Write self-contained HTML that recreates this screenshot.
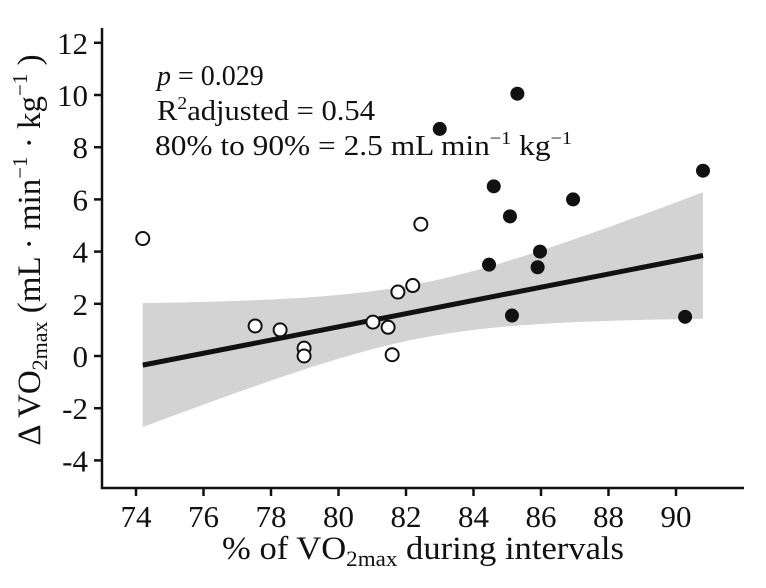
<!DOCTYPE html>
<html><head><meta charset="utf-8"><style>
body{margin:0;background:#fff}
text{font-family:"Liberation Serif",serif;fill:#111}
</style></head><body>
<svg id="chart" width="766" height="588" style="position:absolute;left:0;top:0"></svg>
<script>
const openX=[74.2,77.53,78.27,78.98,78.98,81.02,81.47,81.59,81.76,82.2,82.44];
const openY=[4.5,1.15,1.0,0.3,0.0,1.3,1.1,0.05,2.45,2.7,5.05];
const filledX=[83.0,84.46,84.6,85.08,85.14,85.3,85.9,85.97,86.95,90.27,90.8];
const filledY=[8.7,3.5,6.5,5.35,1.55,10.05,3.4,4.0,6.0,1.5,7.1];
const xTicks=[74,76,78,80,82,84,86,88,90];
const yTicks=[-4,-2,0,2,4,6,8,10,12];
const fitStart=[74.2,-0.35], fitEnd=[90.8,3.85];
const bandCenter=82.4, bandMin=1.05, bandSlope=0.26;
const NS="http://www.w3.org/2000/svg";
const svg=document.getElementById('chart');
const sx=v=>136+(v-74)*33.75;
const sy=v=>356-v*26.1;
function el(t,a,p){const e=document.createElementNS(NS,t);for(const k in a)e.setAttribute(k,a[k]);(p||svg).appendChild(e);return e;}
const fy=x=>fitStart[1]+(fitEnd[1]-fitStart[1])*(x-fitStart[0])/(fitEnd[0]-fitStart[0]);
const hw=x=>Math.sqrt(bandMin*bandMin+Math.pow(bandSlope*(x-bandCenter),2));
let up=[],lo=[];
for(let i=0;i<=40;i++){const x=fitStart[0]+(fitEnd[0]-fitStart[0])*i/40;up.push(sx(x)+','+sy(fy(x)+hw(x)));lo.unshift(sx(x)+','+sy(fy(x)-hw(x)));}
const band=el('polygon',{points:up.concat(lo).join(' '),fill:'#d3d3d3'});


const fit=el('line',{x1:sx(fitStart[0]),y1:sy(fitStart[1]),x2:sx(fitEnd[0]),y2:sy(fitEnd[1]),stroke:'#111','stroke-width':5});


const ax=el('path',{d:'M102,28 V488 H744',fill:'none',stroke:'#111','stroke-width':2.5});


yTicks.forEach(v=>{
 const t=el('line',{x1:94,x2:102,y1:sy(v),y2:sy(v),stroke:'#111','stroke-width':2.5});
 
 
 const l=el('text',{x:88,y:sy(v)+11,'text-anchor':'end','font-size':31,style:'font-family:"Liberation Serif",serif'});
 l.textContent=v;
 
 
});
xTicks.forEach(v=>{
 const t=el('line',{x1:sx(v),x2:sx(v),y1:488,y2:496,stroke:'#111','stroke-width':2.5});
 
 
 const l=el('text',{x:sx(v),y:527,'text-anchor':'middle','font-size':31,style:'font-family:"Liberation Serif",serif'});
 l.textContent=v;
 
 
});
openX.forEach((x,i)=>{
 const c=el('circle',{cx:sx(x),cy:sy(openY[i]),r:6.5,fill:'#fff',stroke:'#111','stroke-width':2});
 
 
});
filledX.forEach((x,i)=>{
 const c=el('circle',{cx:sx(x),cy:sy(filledY[i]),r:7,fill:'#111'});
 
 
});
</script>
<svg width="766" height="588" style="position:absolute;left:0;top:0" font-family="Liberation Serif, serif">
<text x="423" y="559" text-anchor="middle" font-size="33" textLength="402" lengthAdjust="spacingAndGlyphs">% of VO<tspan font-size="22" dy="7">2max</tspan><tspan dy="-7"> during intervals</tspan></text>
<text transform="translate(40,250) rotate(-90)" text-anchor="middle" font-size="33">Δ VO<tspan font-size="22" dy="7">2max</tspan><tspan dy="-7">  (mL · min</tspan><tspan font-size="21" dy="-13">−1</tspan><tspan dy="13"> · kg</tspan><tspan font-size="21" dy="-13">−1</tspan><tspan dy="13"> )</tspan></text>
<text x="157" y="85" font-size="28"><tspan font-style="italic">p</tspan> = 0.029</text>
<text x="157" y="120" font-size="28" textLength="218" lengthAdjust="spacingAndGlyphs">R<tspan font-size="18" dy="-11">2</tspan><tspan dy="11">adjusted = 0.54</tspan></text>
<text x="155" y="155" font-size="28" textLength="417" lengthAdjust="spacingAndGlyphs">80% to 90% = 2.5 mL min<tspan font-size="18" dy="-11">−1</tspan><tspan dy="11"> kg</tspan><tspan font-size="18" dy="-11">−1</tspan></text>
</svg>
</body></html>
